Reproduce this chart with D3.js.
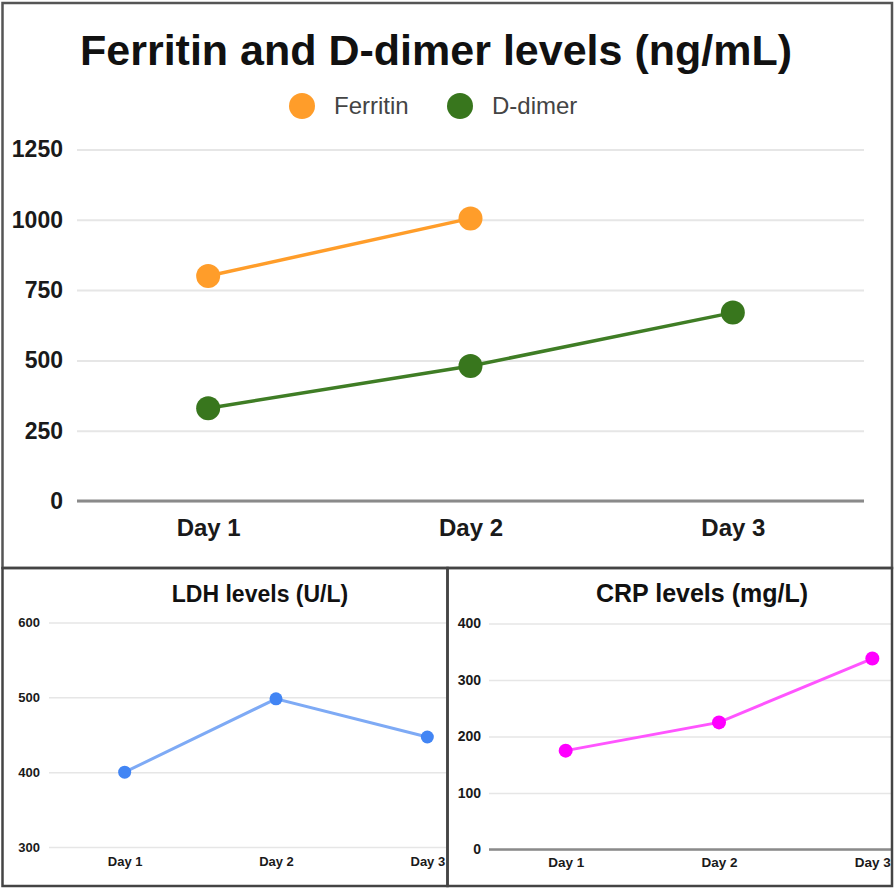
<!DOCTYPE html>
<html>
<head>
<meta charset="utf-8">
<script src="https://cdn.jsdelivr.net/npm/d3@7"></script>
<style>
  html, body { margin: 0; padding: 0; background: #fff; }
  svg { display: block; }
  text { font-family: "Liberation Sans", Arial, sans-serif; }
</style>
</head>
<body>
<svg id="chart" width="896" height="892"></svg>
<script>
// ---- Data ----
const days = ["Day 1", "Day 2", "Day 3"];
const ferritin = [800, 1005, null];
const dDimer = [330, 480, 670];
const ldh = [400, 498, 447];
const crp = [175, 225, 338];
const mainTicks = [0, 250, 500, 750, 1000, 1250];
const ldhTicks = [300, 400, 500, 600];
const crpTicks = [0, 100, 200, 300, 400];
const mainTitle = "Ferritin and D-dimer levels (ng/mL)";
const ldhTitle = "LDH levels (U/L)";
const crpTitle = "CRP levels (mg/L)";
const seriesNames = ["Ferritin", "D-dimer"];

const svg = d3.select("#chart");

const defs = svg.append("defs");
function clip(id, x, y, w, h) {
  defs.append("clipPath").attr("id", id).append("rect")
    .attr("x", x).attr("y", y).attr("width", w).attr("height", h);
}
clip("clipL", 4, 570, 442, 315);
clip("clipR", 449, 570, 442, 315);

function drawChart(g, opts) {
  const x = d3.scalePoint().domain(days).range(opts.xRange).padding(0.5);
  const y = d3.scaleLinear().domain(opts.yDomain).range(opts.yRange);
  const yAxis = d3.axisLeft(y).tickValues(opts.ticks).tickFormat(d3.format("d"))
    .tickSize(-(opts.xRange[1] - opts.xRange[0])).tickPadding(opts.tickPad);
  const ga = g.append("g").attr("transform", `translate(${opts.xRange[0]},0)`).call(yAxis);
  ga.select(".domain").remove();
  ga.selectAll(".tick line").attr("stroke", "#e6e6e6").attr("stroke-width", opts.gridW);
  ga.selectAll(".tick text").attr("fill", "#1a1a1a").attr("font-weight", "bold")
    .attr("font-size", opts.yFont).attr("font-family", "Liberation Sans, Arial, sans-serif");
  if (opts.baseline) {
    g.append("line").attr("x1", opts.xRange[0]).attr("x2", opts.xRange[1])
      .attr("y1", y(opts.yDomain[0])).attr("y2", y(opts.yDomain[0]))
      .attr("stroke", "#8a8a8a").attr("stroke-width", opts.baseW);
  }
  const xAxis = d3.axisBottom(x).tickSize(0).tickPadding(opts.xPad);
  const gx = g.append("g").attr("transform", `translate(0,${opts.yRange[0]})`).call(xAxis);
  gx.select(".domain").remove();
  gx.selectAll(".tick text").attr("fill", "#1a1a1a").attr("font-weight", "bold")
    .attr("font-size", opts.xFont).attr("font-family", "Liberation Sans, Arial, sans-serif");
  opts.series.forEach(s => {
    const pts = s.values.map((v, i) => ({ d: days[i], v })).filter(p => p.v != null);
    const line = d3.line().x(p => x(p.d)).y(p => y(p.v));
    g.append("path").datum(pts).attr("d", line).attr("fill", "none")
      .attr("stroke", s.lineColor).attr("stroke-width", opts.lineW);
    g.selectAll(null).data(pts).enter().append("circle")
      .attr("cx", p => x(p.d)).attr("cy", p => y(p.v)).attr("r", opts.r)
      .attr("fill", s.color);
  });
  g.append("text").attr("x", opts.titleX).attr("y", opts.titleY).attr("text-anchor", "middle")
    .attr("font-weight", "bold").attr("font-size", opts.titleFont).attr("fill", "#111").text(opts.title);
}

// ---- Top chart ----
const topG = svg.append("g");
drawChart(topG, {
  xRange: [77, 864], yRange: [501, 149.5], yDomain: [0, 1250], ticks: mainTicks,
  tickPad: 14, yFont: 23, xFont: 24, xPad: 18, gridW: 2, baseline: true, baseW: 3,
  lineW: 3.5, r: 12,
  series: [
    { values: ferritin, color: "#ff9d2a", lineColor: "#ff9d2a" },
    { values: dDimer, color: "#38761d", lineColor: "#3f7d25" }
  ],
  title: mainTitle, titleX: 436, titleY: 65, titleFont: 43
});
const legendColors = ["#ff9d2a", "#38761d"];
const legendX = [302, 460];
seriesNames.forEach((n, i) => {
  topG.append("circle").attr("cx", legendX[i]).attr("cy", 106).attr("r", 13).attr("fill", legendColors[i]);
  topG.append("text").attr("x", legendX[i] + 32).attr("y", 113.5).attr("font-size", 24)
    .attr("fill", "#444").text(n);
});

// ---- Bottom left: LDH ----
const leftG = svg.append("g").attr("clip-path", "url(#clipL)");
drawChart(leftG, {
  xRange: [49, 503], yRange: [847, 622.5], yDomain: [300, 600], ticks: ldhTicks,
  tickPad: 9, yFont: 13, xFont: 13, xPad: 9.5, gridW: 1.5, baseline: false,
  lineW: 3, r: 6.5,
  series: [{ values: ldh, color: "#4285f4", lineColor: "#7eaaf5" }],
  title: ldhTitle, titleX: 260, titleY: 602, titleFont: 23
});

// ---- Bottom right: CRP ----
const rightG = svg.append("g").attr("clip-path", "url(#clipR)");
drawChart(rightG, {
  xRange: [489, 949], yRange: [849.5, 623.5], yDomain: [0, 400], ticks: crpTicks,
  tickPad: 8, yFont: 14, xFont: 13.5, xPad: 8, gridW: 1.5, baseline: true, baseW: 2.5,
  lineW: 3, r: 7,
  series: [{ values: crp, color: "#ff00ff", lineColor: "#ff55ff" }],
  title: crpTitle, titleX: 702, titleY: 602, titleFont: 25
});

// ---- Panel borders ----
const bc = "#444";
svg.append("rect").attr("x", 2.5).attr("y", 3).attr("width", 889.5).attr("height", 565)
  .attr("fill", "none").attr("stroke", "#555").attr("stroke-width", 2.5);
svg.append("rect").attr("x", 2.5).attr("y", 568).attr("width", 445).attr("height", 318)
  .attr("fill", "none").attr("stroke", bc).attr("stroke-width", 2.5);
svg.append("rect").attr("x", 447.5).attr("y", 568).attr("width", 444.5).attr("height", 318)
  .attr("fill", "none").attr("stroke", bc).attr("stroke-width", 2.5);
</script>
</body>
</html>
